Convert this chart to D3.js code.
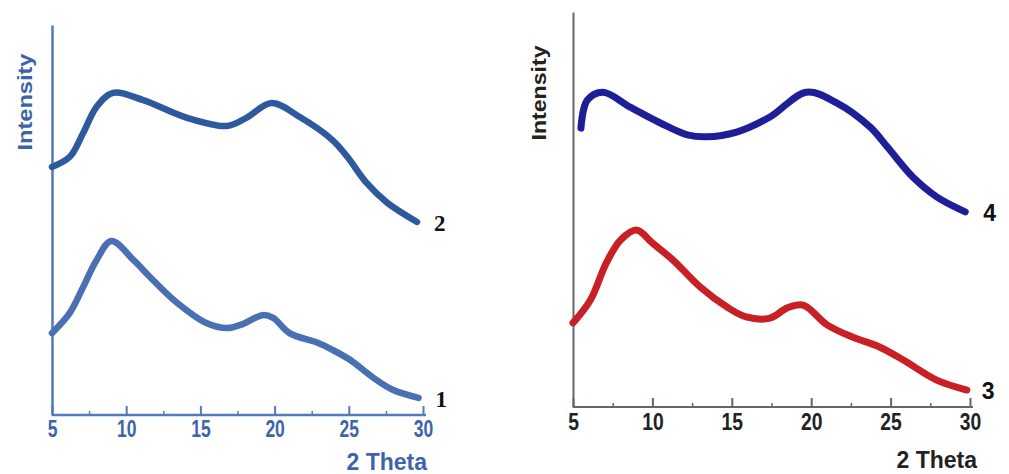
<!DOCTYPE html>
<html>
<head>
<meta charset="utf-8">
<script src="https://cdn.jsdelivr.net/npm/d3@7"></script>
<style>
  body { margin: 0; background: #fff; }
  svg { display: block; }
  text { font-family: "Liberation Sans", Arial, sans-serif; font-weight: bold; }
</style>
</head>
<body>
<div id="chart"></div>
<script>
// shared axis ticks
var xTicks = [5, 10, 15, 20, 25, 30];
var xMinorTicks = [7.5, 12.5, 17.5, 22.5, 27.5];

// left panel, pattern 1 (lower) and 2 (upper)
var theta1 = [5, 6.2, 7.1, 8.0, 9.0, 10.5, 11.6, 13.2, 15.4, 16.8, 17.7, 19.2, 19.9, 21.0, 22.9, 23.9, 25.1, 26.6, 28.0, 29.7];
var intensity1 = [21.0, 26.2, 32.8, 39.7, 44.6, 39.7, 35.4, 29.5, 23.6, 22.3, 23.1, 25.6, 24.9, 21.0, 18.5, 16.7, 14.1, 9.7, 6.4, 4.4];

var theta2 = [5, 6.2, 7.1, 8.0, 9.1, 11.1, 14.1, 16.8, 18.1, 19.8, 21.7, 23.9, 24.9, 26.2, 27.6, 29.6];
var intensity2 = [63.6, 66.2, 72.3, 79.0, 82.6, 80.8, 76.2, 74.1, 76.2, 80.0, 76.4, 70.5, 66.2, 59.5, 54.4, 49.5];

// right panel, pattern 3 (lower, red) and 4 (upper, navy)
var theta3 = [5.0, 6.1, 7.1, 8.0, 9.0, 10.0, 11.3, 13.0, 14.7, 15.9, 17.4, 18.5, 19.5, 21.0, 22.6, 24.3, 25.8, 27.9, 29.8];
var intensity3 = [21.3, 27.1, 36.5, 42.3, 44.8, 41.5, 37.2, 30.4, 25.3, 22.8, 22.5, 25.1, 25.8, 20.8, 17.7, 15.2, 11.9, 6.8, 4.3];

var theta4 = [5.5, 5.9, 6.9, 8.6, 10.5, 12.2, 13.4, 15.3, 17.4, 19.7, 21.6, 23.7, 24.8, 26.4, 27.9, 29.7];
var intensity4 = [70.6, 77.7, 79.7, 75.9, 71.9, 68.9, 68.4, 69.6, 73.4, 79.7, 77.0, 70.9, 65.8, 58.2, 53.2, 49.4];

var svg = d3.select("#chart").append("svg")
    .attr("width", 1009)
    .attr("height", 474);

// squeeze a text to a given share of its width
function fit(sel, factor) {
  sel.each(function() {
    var w = this.getComputedTextLength();
    d3.select(this).attr("textLength", w * factor).attr("lengthAdjust", "spacingAndGlyphs");
  });
}

function drawPanel(p) {
  var x = d3.scaleLinear().domain([5, 30]).range([p.left, p.right]);
  var y = d3.scaleLinear().domain([0, 100]).range([p.bottom, p.top]);

  // minor ticks
  svg.append("g")
      .attr("transform", "translate(0," + p.bottom + ")")
      .call(d3.axisBottom(x).tickValues(xMinorTicks).tickSizeInner(-4).tickSizeOuter(0).tickFormat(""))
      .call(function(g) { g.select(".domain").remove(); })
      .selectAll("line").attr("stroke", p.axisColor).attr("stroke-width", 1.5);

  // main x axis
  var gx = svg.append("g")
      .attr("transform", "translate(0," + p.bottom + ")")
      .call(d3.axisBottom(x).tickValues(xTicks).tickSizeInner(-9).tickSizeOuter(0).tickPadding(p.tickPad));
  gx.select(".domain").attr("stroke", p.axisColor).attr("stroke-width", p.axisWidth)
      .attr("d", "M" + p.left + ",0H" + (p.right + 3));
  gx.selectAll(".tick line").attr("stroke", p.axisColor).attr("stroke-width", 2);
  gx.selectAll(".tick text")
      .attr("fill", p.textColor)
      .style("font-size", "23px")
      .call(fit, p.tickSqueeze);

  // y axis: plain line
  svg.append("g")
      .attr("transform", "translate(" + p.left + ",0)")
      .call(d3.axisLeft(y).tickValues([]).tickSizeOuter(0))
      .select(".domain").attr("stroke", p.axisColor).attr("stroke-width", p.axisWidth);

  // axis titles
  svg.append("text")
      .attr("x", p.titleX).attr("y", p.titleY)
      .attr("text-anchor", "end")
      .attr("fill", p.textColor)
      .style("font-size", "23px")
      .text("2 Theta");

  svg.append("text")
      .attr("transform", "translate(" + p.intX + "," + p.intY + ") rotate(-90)")
      .attr("text-anchor", "middle")
      .attr("fill", p.textColor)
      .attr("textLength", p.intLen)
      .attr("lengthAdjust", "spacingAndGlyphs")
      .style("font-size", "21px")
      .text("Intensity");

  var line = d3.line()
      .x(function(d) { return x(d[0]); })
      .y(function(d) { return y(d[1]); })
      .curve(d3.curveCatmullRom.alpha(0.5));

  p.series.forEach(function(s) {
    var pts = d3.zip(s.theta, s.intensity);
    svg.append("path")
        .datum(pts)
        .attr("fill", "none")
        .attr("stroke", s.color)
        .attr("stroke-width", p.lineWidth)
        .attr("stroke-linecap", "round")
        .attr("stroke-linejoin", "round")
        .attr("d", line);

    var last = pts[pts.length - 1];
    svg.append("text")
        .attr("x", x(last[0]) + s.labelDx)
        .attr("y", y(last[1]) + 9)
        .attr("fill", "#111")
        .style("font-family", p.labelFont)
        .style("font-size", "23px")
        .text(s.name);
  });
}

drawPanel({
  left: 52, right: 423, top: 25, bottom: 415,
  axisColor: "#5578b8", textColor: "#3d64aa", axisWidth: 2.5,
  tickPad: 6, tickSqueeze: 0.76, lineWidth: 6.5,
  titleX: 427, titleY: 470, intX: 32, intY: 102, intLen: 97,
  labelFont: "'Liberation Serif', 'DejaVu Serif', serif",
  series: [
    { name: "2", theta: theta2, intensity: intensity2, color: "#2d5a9f", labelDx: 17 },
    { name: "1", theta: theta1, intensity: intensity1, color: "#4a70b4", labelDx: 17 }
  ]
});

drawPanel({
  left: 573, right: 970, top: 12, bottom: 407,
  axisColor: "#666", textColor: "#222", axisWidth: 2,
  tickPad: 7, tickSqueeze: 0.84, lineWidth: 7,
  titleX: 977, titleY: 468, intX: 546, intY: 93, intLen: 95,
  labelFont: "'Liberation Sans', Arial, sans-serif",
  series: [
    { name: "4", theta: theta4, intensity: intensity4, color: "#1e1e98", labelDx: 18 },
    { name: "3", theta: theta3, intensity: intensity3, color: "#c92025", labelDx: 15 }
  ]
});
</script>
</body>
</html>
